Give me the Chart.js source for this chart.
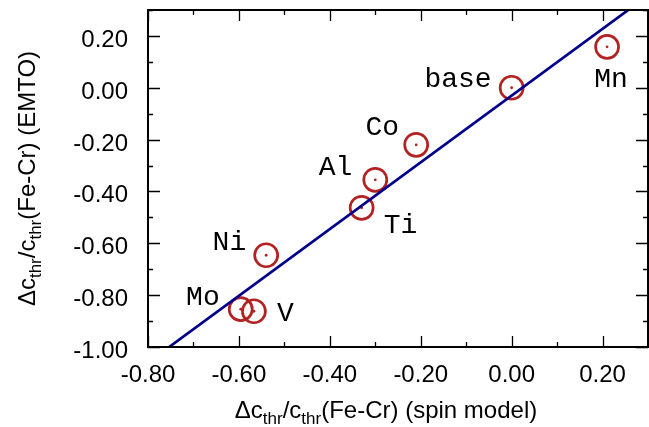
<!DOCTYPE html>
<html>
<head>
<meta charset="utf-8">
<script src="https://cdn.jsdelivr.net/npm/chart.js@4/dist/chart.umd.min.js"></script>
<style>
  html, body { margin: 0; padding: 0; background: #fff; }
  #wrap { width: 649px; height: 427px; }
</style>
</head>
<body>
<div id="wrap"><canvas id="c" width="649" height="427"></canvas></div>
<script>
"use strict";

// alloying elements, values
const elements = ['base', 'Mn', 'Co', 'Al', 'Ti', 'Ni', 'Mo', 'V'];
const spinModel = [0.00, 0.21, -0.21, -0.30, -0.33, -0.54, -0.596, -0.567];
const emto = [0.00, 0.158, -0.22, -0.355, -0.463, -0.646, -0.854, -0.862];

// fitted straight line, two end points
const fitX = [-0.80, 0.30];
const fitY = [-1.06, 0.356];

const xTickValues = [-0.80, -0.60, -0.40, -0.20, 0.00, 0.20];
const yTickValues = [-1.00, -0.80, -0.60, -0.40, -0.20, 0.00, 0.20];

// label placement in pixels relative to each marker: dx, dy (baseline), align
const labelOffsets = {
    base: [-20, -1, 'right'],
    Mn: [4, 40, 'center'],
    Co: [-34, -10, 'center'],
    Al: [-23, -5, 'right'],
    Ti: [22, 25, 'left'],
    Ni: [-20, -5, 'right'],
    Mo: [-21, -4, 'right'],
    V: [23, 10, 'left']
};

const markerColor = '#b22222';
const lineColor = '#00008b';
const sansFont = '"Liberation Sans", Arial, sans-serif';
const monoFont = '"Liberation Mono", "Courier New", monospace';

const points = spinModel.map((x, i) => ({ x: x, y: emto[i] }));
const fitPoints = fitX.map((x, i) => ({ x: x, y: fitY[i] }));

// frame, mirrored ticks, tick labels, point labels and axis titles with subscripts
const framePlugin = {
    id: 'frame',
    afterDatasetsDraw: function (chart) {
        const ctx = chart.ctx;
        const a = chart.chartArea;
        const xs = chart.scales.x;
        const ys = chart.scales.y;

        ctx.save();
        ctx.strokeStyle = '#000';
        ctx.lineWidth = 1.3;
        ctx.beginPath();
        for (let v = -0.8; v <= 0.301; v += 0.1) {
            const px = Math.round(xs.getPixelForValue(v)) + 0.5;
            const major = Math.abs(Math.round(v * 10)) % 2 === 0;
            const len = major ? 11 : 5;
            ctx.moveTo(px, a.bottom); ctx.lineTo(px, a.bottom - len);
            ctx.moveTo(px, a.top); ctx.lineTo(px, a.top + len);
        }
        for (let v = -1.0; v <= 0.301; v += 0.1) {
            const py = Math.round(ys.getPixelForValue(v)) + 0.5;
            const major = Math.abs(Math.round(v * 10)) % 2 === 0;
            const len = major ? 12 : 5;
            ctx.moveTo(a.left, py); ctx.lineTo(a.left + len, py);
            ctx.moveTo(a.right, py); ctx.lineTo(a.right - len, py);
        }
        ctx.stroke();

        ctx.lineWidth = 2;
        ctx.strokeRect(a.left, a.top, a.right - a.left, a.bottom - a.top);

        // tick labels
        ctx.fillStyle = '#000';
        ctx.font = '24px ' + sansFont;
        ctx.textBaseline = 'alphabetic';
        ctx.textAlign = 'center';
        xTickValues.forEach(v => {
            ctx.fillText(v.toFixed(2), xs.getPixelForValue(v), a.bottom + 35);
        });
        ctx.textAlign = 'right';
        yTickValues.forEach(v => {
            ctx.fillText(v.toFixed(2), a.left - 20, ys.getPixelForValue(v) + 11);
        });

        // point labels
        ctx.font = '28px ' + monoFont;
        elements.forEach((name, i) => {
            const off = labelOffsets[name];
            const px = xs.getPixelForValue(spinModel[i]);
            const py = ys.getPixelForValue(emto[i]);
            ctx.textAlign = off[2];
            ctx.fillText(name, px + off[0], py + off[1]);
        });

        // axis titles
        const pieces = function (tail) {
            return [['\u0394c', false], ['thr', true], ['/c', false], ['thr', true], [tail, false]];
        };
        const drawRich = function (parts, cx, baseline) {
            ctx.textAlign = 'left';
            let total = 0;
            parts.forEach(p => {
                ctx.font = (p[1] ? '17px ' : '24px ') + sansFont;
                total += ctx.measureText(p[0]).width;
            });
            let x = cx - total / 2;
            parts.forEach(p => {
                ctx.font = (p[1] ? '17px ' : '24px ') + sansFont;
                ctx.fillText(p[0], x, baseline + (p[1] ? 6 : 0));
                x += ctx.measureText(p[0]).width;
            });
        };

        drawRich(pieces('(Fe-Cr) (spin model)'), 386, 418);

        ctx.translate(35, (a.top + a.bottom) / 2);
        ctx.rotate(-Math.PI / 2);
        drawRich(pieces('(Fe-Cr) (EMTO)'), 0, 0);
        ctx.restore();
    }
};

new Chart(document.getElementById('c'), {
    type: 'scatter',
    data: {
        datasets: [{
            type: 'line',
            data: fitPoints,
            borderColor: lineColor,
            borderWidth: 2.7,
            pointRadius: 0,
            fill: false
        }, {
            data: points,
            pointStyle: 'circle',
            pointRadius: 11.5,
            borderWidth: 2.7,
            borderColor: markerColor,
            backgroundColor: 'rgba(0,0,0,0)'
        }, {
            data: points,
            pointStyle: 'circle',
            pointRadius: 1.4,
            borderWidth: 0,
            backgroundColor: markerColor
        }]
    },
    options: {
        responsive: false,
        animation: false,
        layout: {
            autoPadding: false,
            padding: { top: 10, right: 1, left: 0, bottom: 0 }
        },
        plugins: {
            legend: { display: false },
            tooltip: { enabled: false }
        },
        scales: {
            x: {
                type: 'linear',
                min: -0.80,
                max: 0.30,
                grid: { display: false, drawTicks: false },
                border: { display: false },
                ticks: { display: false },
                afterFit: function (scale) {
                    scale.height = 80;
                }
            },
            y: {
                type: 'linear',
                min: -1.00,
                max: 0.30,
                grid: { display: false, drawTicks: false },
                border: { display: false },
                ticks: { display: false },
                afterFit: function (scale) {
                    scale.width = 148;
                }
            }
        }
    },
    plugins: [framePlugin]
});
</script>
</body>
</html>
